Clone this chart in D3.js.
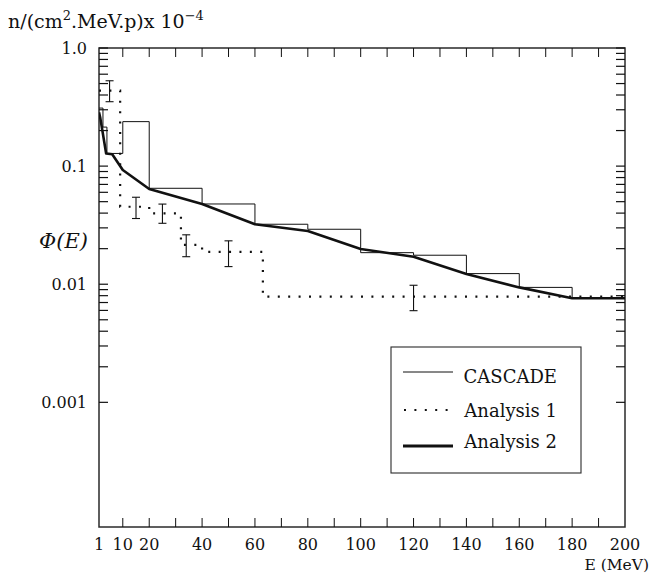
<!DOCTYPE html>
<html>
<head>
<meta charset="utf-8">
<script src="https://cdn.jsdelivr.net/npm/d3@7"></script>
<style>
  html, body { margin: 0; padding: 0; background: #fff; }
</style>
</head>
<body>
<svg id="chart" width="651" height="574"></svg>
<script>
// ---------- data ----------
const cascadeEdges  = [1, 2.5, 4, 10, 20, 40, 60, 80, 100, 120, 140, 160, 180, 200];
const cascadeValues = [0.31, 0.214, 0.128, 0.238, 0.0649, 0.0478, 0.0322, 0.0292, 0.0185, 0.0176, 0.0123, 0.0094, 0.0076];

const analysis1Edges  = [1, 9, 20, 32, 40, 63, 200];
const analysis1Values = [0.435, 0.0453, 0.0398, 0.0215, 0.0188, 0.00784];

const pointE     = [5, 15, 25, 34, 50, 120];
const pointValue = [0.435, 0.0453, 0.0398, 0.0215, 0.0188, 0.00784];
const pointLow   = [0.351, 0.036, 0.0328, 0.0171, 0.0141, 0.00597];
const pointHigh  = [0.528, 0.0545, 0.0477, 0.0262, 0.0233, 0.0098];

const analysis2E      = [1, 1.5, 3.7, 6, 10, 20, 40, 60, 80, 100, 120, 140, 160, 180, 200];
const analysis2Values = [0.285, 0.255, 0.128, 0.126, 0.0926, 0.064, 0.0478, 0.0322, 0.0282, 0.0199, 0.0171, 0.0122, 0.0094, 0.0076, 0.0076];

const xTickLabels = [1, 10, 20, 40, 60, 80, 100, 120, 140, 160, 180, 200];
const xTickMarks  = [10, 20, 30, 40, 50, 60, 70, 80, 90, 100, 110, 120, 130, 140, 150, 160, 170, 180, 190];
const yTickLabels = [1.0, 0.1, 0.01, 0.001];
const yTickText   = ["1.0", "0.1", "0.01", "0.001"];
const yMinorDecades = [0.1, 0.01, 0.001];   // decades that carry minor ticks (2..9 x 10^k)
const xDomain = [1, 200];
const yDomain = [8.8e-5, 1];

const legendNames = ["CASCADE", "Analysis 1", "Analysis 2"];

// ---------- layout ----------
const L = 99, R = 625, T = 48, B = 527;
const svg = d3.select("#chart");
const FONT = "DejaVu Serif";
const x = d3.scaleLinear().domain(xDomain).range([L, R]);
const y = d3.scaleLog().domain(yDomain).range([B, T]);

const ink = "#111";

function txt(sel) { return sel.append("text").style("font-family", FONT).attr("fill", ink); }

// frame
svg.append("rect").attr("x", L).attr("y", T).attr("width", R - L).attr("height", B - T)
  .attr("fill", "none").attr("stroke", "#2a2a2a").attr("stroke-width", 1.5);

// x ticks (top and bottom, inward)
const tickLen = 9;
xTickMarks.forEach(v => {
  svg.append("line").attr("x1", x(v)).attr("x2", x(v)).attr("y1", B).attr("y2", B - tickLen)
    .attr("stroke", ink).attr("stroke-width", 1);
  svg.append("line").attr("x1", x(v)).attr("x2", x(v)).attr("y1", T).attr("y2", T + tickLen)
    .attr("stroke", ink).attr("stroke-width", 1);
});

// y ticks
const yTicks = [];
yTickLabels.forEach(v => yTicks.push({v, major: true}));
yMinorDecades.forEach(d => { for (let k = 2; k <= 9; k++) yTicks.push({v: d * k, major: false}); });
yTicks.forEach(t => {
  const len = 9;
  svg.append("line").attr("x1", L).attr("x2", L + len).attr("y1", y(t.v)).attr("y2", y(t.v))
    .attr("stroke", ink).attr("stroke-width", 1.2);
  svg.append("line").attr("x1", R).attr("x2", R - len).attr("y1", y(t.v)).attr("y2", y(t.v))
    .attr("stroke", ink).attr("stroke-width", 1.2);
});

// tick labels
xTickLabels.forEach(v => {
  txt(svg).attr("x", x(v)).attr("y", 550).attr("text-anchor", "middle")
    .attr("font-size", 16).text(v);
});
yTickLabels.forEach((v, i) => {
  txt(svg).attr("x", 87).attr("y", y(v) + 6).attr("text-anchor", "end")
    .attr("font-size", 16).text(yTickText[i]);
});

// axis titles
txt(svg).attr("x", 649).attr("y", 569.5).attr("text-anchor", "end")
  .attr("font-size", 15.5).text("E (MeV)");
txt(svg).attr("x", 88).attr("y", 248).attr("text-anchor", "end").attr("font-size", 21)
  .attr("font-style", "italic").text("Φ(E)");
const title = txt(svg).attr("x", 8).attr("y", 28).attr("font-size", 19);
title.append("tspan").text("n/(cm");
title.append("tspan").attr("font-size", 13).attr("dy", -8).text("2");
title.append("tspan").attr("dy", 8).text(".MeV.p)x 10");
title.append("tspan").attr("font-size", 13).attr("dy", -8).text("−4");

// clip
svg.append("clipPath").attr("id", "clip").append("rect")
  .attr("x", L).attr("y", T).attr("width", R - L).attr("height", B - T);
const g = svg.append("g").attr("clip-path", "url(#clip)");

// step helper
function stepPoints(edges, vals) {
  const pts = [];
  vals.forEach((v, i) => { pts.push([edges[i], v]); pts.push([edges[i + 1], v]); });
  return pts;
}
const line = d3.line().x(d => x(d[0])).y(d => y(d[1]));

// CASCADE histogram (thin)
g.append("path").datum(stepPoints(cascadeEdges, cascadeValues))
  .attr("d", line).attr("fill", "none").attr("stroke", ink).attr("stroke-width", 1);

// Analysis 1 (dotted step)
g.append("path").datum(stepPoints(analysis1Edges, analysis1Values))
  .attr("d", line).attr("fill", "none").attr("stroke", ink).attr("stroke-width", 2.2)
  .attr("stroke-dasharray", "2,8.4");

// error bars
const cap = 4;
pointE.forEach((e, i) => {
  const cx = x(e);
  g.append("line").attr("x1", cx).attr("x2", cx).attr("y1", y(pointHigh[i])).attr("y2", y(pointLow[i]))
    .attr("stroke", ink).attr("stroke-width", 1.1);
  [pointHigh[i], pointLow[i]].forEach(v => {
    g.append("line").attr("x1", cx - cap).attr("x2", cx + cap).attr("y1", y(v)).attr("y2", y(v))
      .attr("stroke", ink).attr("stroke-width", 1.1);
  });
});

// Analysis 2 (thick)
g.append("path").datum(analysis2E.map((e, i) => [e, analysis2Values[i]]))
  .attr("d", line).attr("fill", "none").attr("stroke", ink).attr("stroke-width", 2.6)
  .attr("stroke-linejoin", "round");

// legend
const lg = svg.append("g");
lg.append("rect").attr("x", 391).attr("y", 347).attr("width", 190).attr("height", 126)
  .attr("fill", "#fff").attr("stroke", "#2a2a2a").attr("stroke-width", 1.1);
const legLineY = [372, 410, 446];
const legTextY = [383, 417, 448];
const legStyles = [
  {w: 1, dash: null},
  {w: 2.2, dash: "2,8.4"},
  {w: 3, dash: null}
];
legendNames.forEach((name, i) => {
  const s = legStyles[i];
  const ln = lg.append("line").attr("x1", 403).attr("x2", 453).attr("y1", legLineY[i]).attr("y2", legLineY[i])
    .attr("stroke", ink).attr("stroke-width", s.w);
  if (s.dash) ln.attr("stroke-dasharray", s.dash).attr("x1", 404);
  txt(lg).attr("x", 557).attr("y", legTextY[i]).attr("text-anchor", "end")
    .attr("font-size", 18).text(name);
});
</script>
</body>
</html>
